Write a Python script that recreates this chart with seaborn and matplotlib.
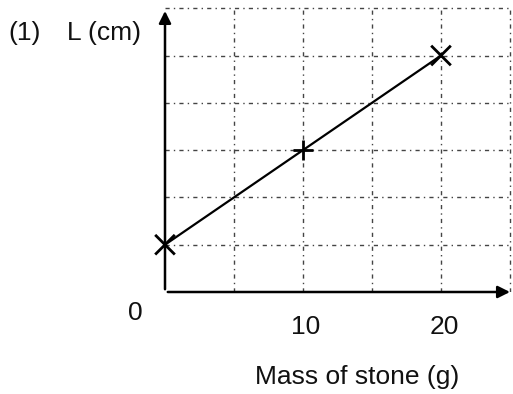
import matplotlib
matplotlib.use("Agg")
import matplotlib.pyplot as plt
import seaborn as sns
import pandas as pd

# -----------------------------
# Data (L in grid units, no scale shown)
# -----------------------------
mass = [0, 10, 20]
length = [1, 3, 5]
marker_kind = ["a", "b", "c"]
x_ticks = [10, 20]
x_grid = [5, 10, 15, 20, 25]
y_grid = [1, 2, 3, 4, 5, 6]

W, H = 513, 394


def px(x, y):
    return x / W, 1 - y / H


sns.set_theme(style="white")
plt.rcParams["font.family"] = ["Liberation Sans", "DejaVu Sans"]
plt.rcParams["text.color"] = "#111111"

fig = plt.figure(figsize=(W / 100, H / 100), dpi=100)
left, bottom = px(165, 292)
right, top = px(513, 5)
ax = fig.add_axes([left, bottom, right - left, top - bottom])
ax.set_xlim(0, (513 - 165) / 13.8)
ax.set_ylim(0, 287 / 47.3)

# dotted grid
for gx in x_grid:
    ax.plot([gx, gx], [0, 6.0], color="#444444", lw=1.0, ls=(0, (3, 3, 1, 3)), zorder=1)
for gy in y_grid:
    ax.plot([0, 25.0], [gy, gy], color="#444444", lw=1.0, ls=(0, (3, 3, 1, 3)), zorder=1)

# axes with arrows
ax.annotate("", xy=(25.2, 0), xytext=(0, 0),
            arrowprops=dict(arrowstyle="-|>", color="black", lw=1.8, mutation_scale=18),
            annotation_clip=False)
ax.annotate("", xy=(0, 6.0), xytext=(0, 0),
            arrowprops=dict(arrowstyle="-|>", color="black", lw=1.8, mutation_scale=18),
            annotation_clip=False)

df = pd.DataFrame({"mass": mass, "length": length, "kind": marker_kind})
sns.lineplot(data=df, x="mass", y="length", color="black", lw=1.6, ax=ax, zorder=3)
sns.scatterplot(data=df, x="mass", y="length", style="kind",
                markers={"a": "x", "b": "+", "c": "x"},
                color="black", s=200, linewidth=2, legend=False, ax=ax, zorder=4,
                clip_on=False)
ax.axis("off")

# labels
fs = 19
fig.text(*px(25, 33), "(1)", fontsize=fs, ha="center", va="center")
fig.text(*px(104, 33), "L (cm)", fontsize=fs, ha="center", va="center")
fig.text(*px(135, 313), "0", fontsize=fs, ha="center", va="center")
for t in x_ticks:
    fig.text(*px(165 + 13.8 * t + 3, 327), str(t), fontsize=fs, ha="center", va="center")
fig.text(*px(357, 377), "Mass of stone (g)", fontsize=fs, ha="center", va="center")

fig.savefig("out.png", dpi=100)
